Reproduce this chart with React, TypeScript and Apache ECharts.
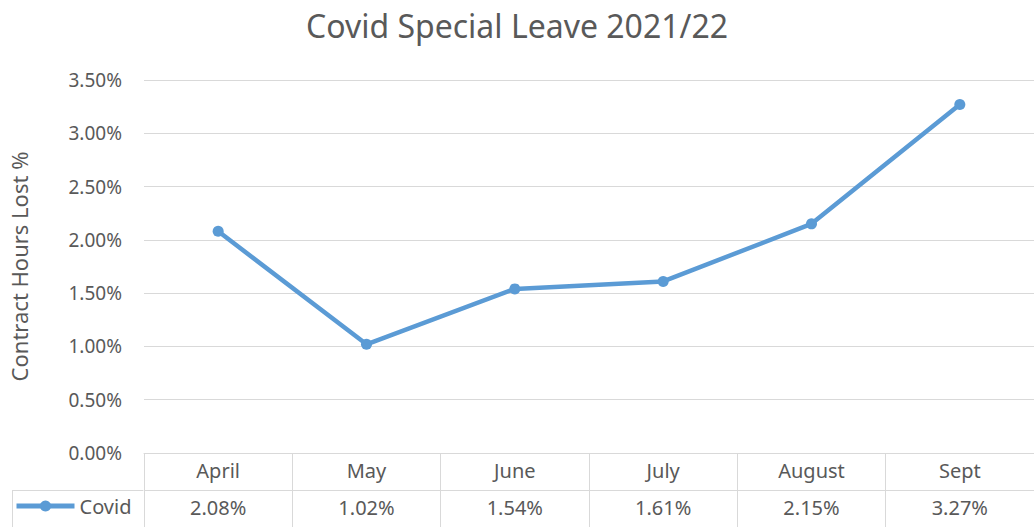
import React, { useEffect, useRef } from "react";
import * as echarts from "echarts";

const title = "Covid Special Leave 2021/22";
const yAxisName = "Contract Hours Lost %";
const seriesName = "Covid";
const months = ["April", "May", "June", "July", "August", "Sept"];
const values = [2.08, 1.02, 1.54, 1.61, 2.15, 3.27];
const yMin = 0;
const yMax = 3.5;
const yStep = 0.5;

const FONT = "Noto Sans";
const GREY = "#595959";
const LINE = "#d9d9d9";
const BLUE = "#5b9bd5";

export default function App() {
  const ref = useRef<HTMLDivElement>(null);
  useEffect(() => {
    if (!ref.current) return;
    const chart = echarts.init(ref.current, undefined, { renderer: "svg" });
    chart.setOption({
      animation: false,
      backgroundColor: "#ffffff",
      textStyle: { fontFamily: FONT, color: GREY },
      title: {
        text: title,
        left: "center",
        top: 4,
        textStyle: { fontFamily: FONT, fontSize: 32, fontWeight: "normal", color: GREY },
      },
      legend: {
        data: [seriesName],
        left: 14,
        top: 496,
        padding: 0,
        itemWidth: 58,
        itemHeight: 14,
        lineStyle: { width: 5, color: BLUE },
        itemStyle: { color: BLUE },
        textStyle: { fontFamily: FONT, fontSize: 20, color: GREY },
        itemGap: 5,
      },
      grid: { left: 143, right: 0, top: 80, bottom: 74 },
      xAxis: [
        {
          type: "category",
          data: months,
          boundaryGap: true,
          position: "bottom",
          axisLine: { show: true, lineStyle: { color: LINE, width: 1 } },
          axisTick: { show: true, length: 74, lineStyle: { color: LINE, width: 1 } },
          axisLabel: { fontFamily: FONT, fontSize: 20, color: GREY, margin: 7 },
          splitLine: { show: false },
        },
        {
          type: "category",
          data: months,
          boundaryGap: true,
          position: "bottom",
          offset: 37,
          axisLine: { show: true, lineStyle: { color: LINE, width: 1 } },
          axisTick: { show: false },
          axisLabel: {
            fontFamily: FONT,
            fontSize: 20,
            color: GREY,
            margin: 7,
            formatter: (_v: string, i: number) => values[i].toFixed(2) + "%",
          },
        },
      ],
      yAxis: {
        type: "value",
        min: yMin,
        max: yMax,
        interval: yStep,
        name: yAxisName,
        nameLocation: "middle",
        nameGap: 114,
        nameTextStyle: { fontFamily: FONT, fontSize: 22, color: GREY },
        axisLine: { show: false },
        axisTick: { show: false },
        axisLabel: {
          fontFamily: FONT,
          fontSize: 19,
          color: GREY,
          margin: 22,
          formatter: (v: number) => v.toFixed(2) + "%",
        },
        splitLine: { lineStyle: { color: LINE, width: 1 } },
      },
      graphic: [
        { type: "line", shape: { x1: 12, y1: 490.5, x2: 143, y2: 490.5 }, style: { stroke: LINE, lineWidth: 1 } },
        { type: "line", shape: { x1: 12.5, y1: 490, x2: 12.5, y2: 527 }, style: { stroke: LINE, lineWidth: 1 } },
      ],
      series: [
        {
          name: seriesName,
          type: "line",
          xAxisIndex: 0,
          data: values,
          symbol: "circle",
          symbolSize: 11,
          itemStyle: { color: BLUE },
          lineStyle: { color: BLUE, width: 4.5 },
        },
      ],
    });
    return () => chart.dispose();
  }, []);
  return (
    <div
      ref={ref}
      style={{ position: "absolute", left: 0, top: 0, width: 1034, height: 527 }}
    />
  );
}
